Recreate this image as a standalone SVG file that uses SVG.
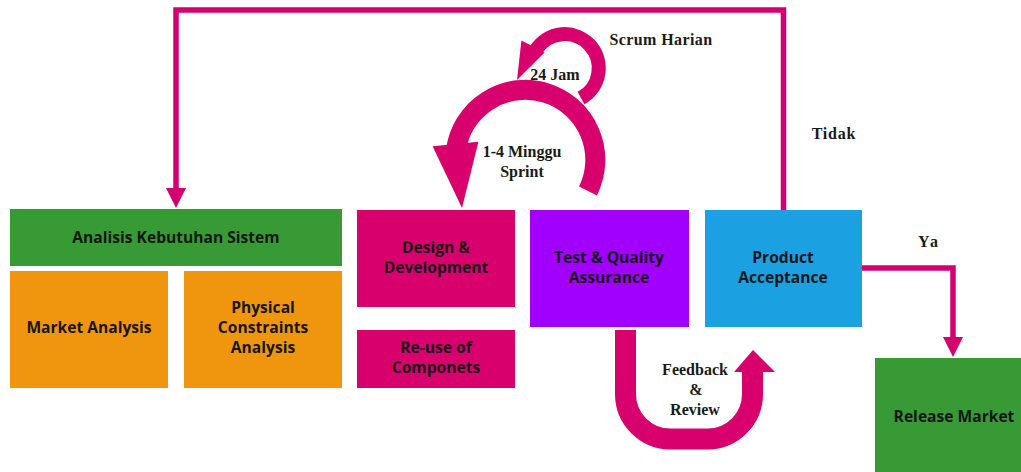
<svg xmlns="http://www.w3.org/2000/svg" width="1021" height="472" viewBox="0 0 1021 472">
  <style>
    .box text { font-family: "Open Sans", "Noto Sans", "Liberation Sans", sans-serif; font-weight: 700; font-size: 15.6px; fill: #161616; text-anchor: middle; }
    .lbl { font-family: "Liberation Serif", "DejaVu Serif", serif; font-weight: 700; font-size: 16px; fill: #1a1a1a; text-anchor: middle; }
    .green { fill: #379a35; }
    .orange { fill: #f0960e; }
    .pink { fill: #d8006c; }
    .purple { fill: #a100ff; }
    .blue { fill: #1ba0e2; }
    .wire { fill: none; stroke: #d4006f; stroke-width: 5.5; }
    .band { fill: none; stroke: #d8006c; }
    .head { fill: #d8006c; }
  </style>
  <defs>
    <!-- arrowhead starts where the line stops -->
    <marker id="tip" markerUnits="userSpaceOnUse" markerWidth="20" markerHeight="20" refX="0" refY="10" orient="auto" viewBox="0 0 20 20">
      <path d="M0,0 L20,10 L0,20 Z" fill="#d4006f"/>
    </marker>
  </defs>
  <rect width="1021" height="472" fill="#ffffff"/>

  <!-- process boxes -->
  <g id="analisis" class="box">
    <rect class="green" x="10" y="209" width="332" height="57"/>
    <text x="176" y="243">Analisis Kebutuhan Sistem</text>
  </g>
  <g id="market-analysis" class="box">
    <rect class="orange" x="10" y="271" width="158" height="117"/>
    <text x="89" y="333">Market Analysis</text>
  </g>
  <g id="physical-constraints" class="box">
    <rect class="orange" x="184" y="271" width="158" height="117"/>
    <text x="263" y="313">Physical</text>
    <text x="263" y="333">Constraints</text>
    <text x="263" y="353">Analysis</text>
  </g>
  <g id="design-development" class="box">
    <rect class="pink" x="357" y="210" width="158" height="97"/>
    <text x="436" y="253">Design &amp;</text>
    <text x="436" y="273">Development</text>
  </g>
  <g id="reuse-components" class="box">
    <rect class="pink" x="357" y="330" width="158" height="58"/>
    <text x="436" y="353">Re-use of</text>
    <text x="436" y="373">Componets</text>
  </g>
  <g id="test-quality" class="box">
    <rect class="purple" x="530" y="210" width="159" height="117"/>
    <text x="609" y="263">Test &amp; Quality</text>
    <text x="609" y="283">Assurance</text>
  </g>
  <g id="product-acceptance" class="box">
    <rect class="blue" x="705" y="210" width="157" height="117"/>
    <text x="783" y="263">Product</text>
    <text x="783" y="283">Acceptance</text>
  </g>
  <g id="release-market" class="box">
    <rect class="green" x="875" y="358" width="158" height="114"/>
    <text x="954" y="422">Release Market</text>
  </g>

  <!-- connectors -->
  <g id="connectors">
    <!-- rejected: back to requirements analysis -->
    <path class="wire" d="M783.5,210 V10 H176 V188" marker-end="url(#tip)"/>
    <!-- accepted: on to release -->
    <path class="wire" d="M862,268 H953 V337" marker-end="url(#tip)"/>

    <!-- sprint loop (1-4 weeks) -->
    <path class="band" stroke-width="20" d="M588,191 A70 70 0 1 0 456,150"/>
    <polygon class="head" points="432.6,146.3 478.4,141.7 462,208"/>

    <!-- daily scrum loop (24 hours) -->
    <path class="band" stroke-width="14" d="M581,98 A34 34 0 1 0 536,50"/>
    <polygon class="head" points="521.4,40.4 544.6,52.6 517,80"/>

    <!-- feedback and review loop -->
    <path class="band" stroke-width="21" d="M625.5,330 V394 A45 45 0 0 0 670.5,439 H707.5 A45 45 0 0 0 752.5,394 V371"/>
    <polygon class="head" points="734,372 775,372 753,350"/>
  </g>

  <!-- connector labels -->
  <g id="labels">
    <text class="lbl" x="661" y="45" letter-spacing="0.4">Scrum Harian</text>
    <text class="lbl" x="555" y="80">24 Jam</text>
    <text class="lbl" x="522" y="157">1-4 Minggu</text>
    <text class="lbl" x="522" y="177">Sprint</text>
    <text class="lbl" x="834" y="139" font-size="15" letter-spacing="0.8">Tidak</text>
    <text class="lbl" x="929" y="247" font-size="15" letter-spacing="2">Ya</text>
    <text class="lbl" x="695" y="375">Feedback</text>
    <text class="lbl" x="696" y="395">&amp;</text>
    <text class="lbl" x="695" y="415">Review</text>
  </g>
</svg>
